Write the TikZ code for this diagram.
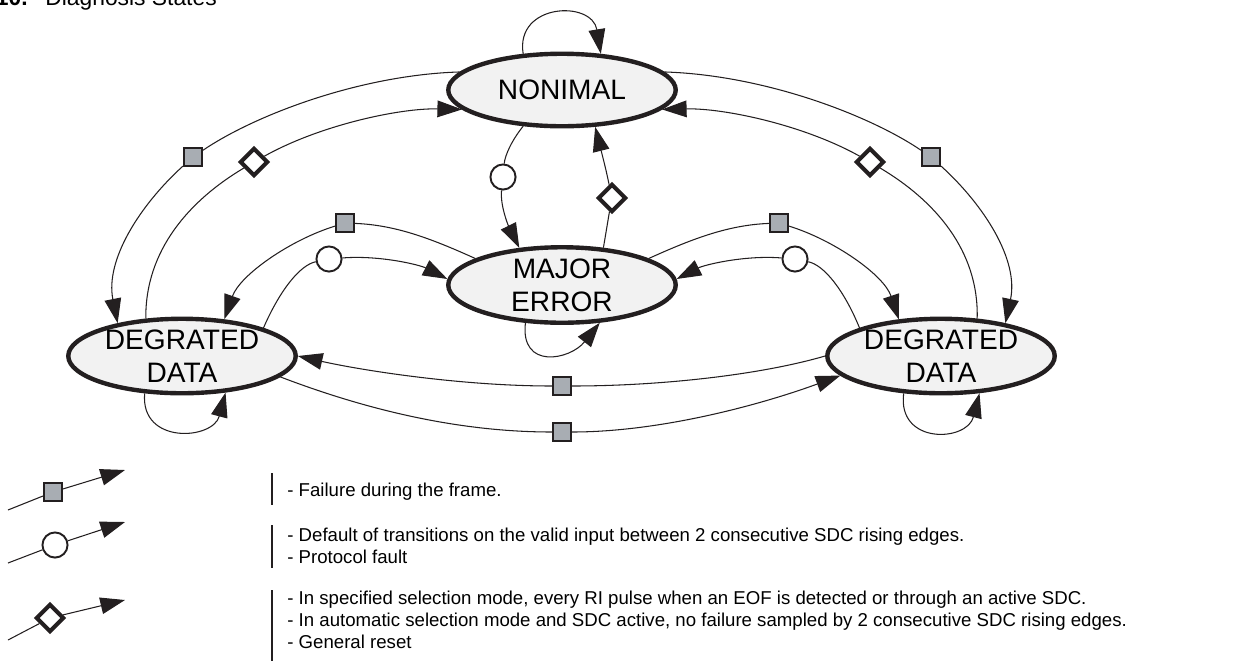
\documentclass[tikz,border=0pt]{standalone}
\usepackage{fontspec}
\setmainfont{Liberation Sans}
\usetikzlibrary{shapes.geometric,arrows.meta,positioning}
\definecolor{statefill}{HTML}{F2F2F2}
\definecolor{markgray}{HTML}{A8ADB3}
\definecolor{inkblack}{HTML}{231F20}

\begin{document}
\begin{tikzpicture}[
    x=0.02cm, y=-0.02cm,
    state/.style={ellipse, draw=inkblack, line width=2.5pt, fill=statefill, minimum width=4.55cm, minimum height=1.45cm, inner sep=0pt, align=center, font=\fontsize{16}{18.8}\selectfont},
    sqmark/.style={rectangle, draw=inkblack, fill=markgray, line width=1pt, minimum size=10.4pt, inner sep=0pt},
    cmark/.style={circle, draw=inkblack, fill=white, line width=1.1pt, minimum size=14.3pt, inner sep=0pt},
    dmark/.style={diamond, draw=inkblack, fill=white, line width=2.3pt, minimum width=16pt, minimum height=16pt, inner sep=0pt},
    trans/.style={-{Triangle[length=14pt, width=9.5pt]}, draw=inkblack, line width=0.6pt},
    legtext/.style={anchor=base west, inner sep=0pt, font=\fontsize{10.6}{12.5}\selectfont}
]
    \useasboundingbox (0,0) rectangle (1254,660);

    \node[anchor=base west, inner sep=0pt, font=\fontsize{13}{15}\selectfont] (title) at (45,5) {Diagnosis States};
    \node[anchor=base east, inner sep=0pt, font=\fontsize{13}{15}\selectfont\bfseries] (fignum) at (28,5) {10.};

    \node[state] (nominal) at (562,90) {NONIMAL};
    \node[state, minimum height=1.51cm] (major) at (562,285) {MAJOR\\ERROR};
    \node[state] (degleft) at (182,356) {DEGRATED\\DATA};
    \node[state] (degright) at (941,356) {DEGRATED\\DATA};

    \node[sqmark] (sqNL) at (193,157) {};
    \node[dmark] (dmNL) at (254,162) {};
    \node[sqmark] (sqNR) at (931,157) {};
    \node[dmark] (dmNR) at (870,162) {};
    \node[cmark] (cmNM) at (503,177) {};
    \node[dmark] (dmMN) at (612,198) {};
    \node[sqmark] (sqML) at (345,223) {};
    \node[cmark] (cmLM) at (329,259) {};
    \node[sqmark] (sqMR) at (779,223) {};
    \node[cmark] (cmRM) at (795,259) {};
    \node[sqmark] (sqRL) at (562,386) {};
    \node[sqmark] (sqLR) at (562,432) {};

    \draw[trans] (nominal.137) .. controls (515,3) and (592,0) .. (nominal.43);
    \draw[trans] (nominal.170) .. controls (360,75) and (255,115) .. (sqNL) .. controls (140,205) and (105,260) .. (degleft.153);
    \draw[trans] (degleft.134) .. controls (145,250) and (190,200) .. (dmNL) .. controls (320,125) and (400,108) .. (nominal.191);
    \draw[trans] (nominal.10) .. controls (764,75) and (869,115) .. (sqNR) .. controls (984,205) and (1019,260) .. (degright.27);
    \draw[trans] (degright.46) .. controls (979,250) and (934,200) .. (dmNR) .. controls (804,125) and (724,108) .. (nominal.349);
    \draw[trans] (nominal.223) .. controls (512,140) and (505,155) .. (cmNM) .. controls (500,205) and (508,225) .. (major.139);
    \draw[trans] (major.42) .. controls (606,230) .. (dmMN) .. controls (606,170) .. (nominal.312);
    \draw[trans] (major.163) .. controls (430,238) and (395,225) .. (sqML) .. controls (290,240) and (240,275) .. (degleft.41);
    \draw[trans] (degleft.19) .. controls (280,290) and (300,265) .. (cmLM) .. controls (380,255) and (420,265) .. (major.177);
    \draw[trans] (major.17) .. controls (694,238) and (729,225) .. (sqMR) .. controls (834,240) and (884,275) .. (degright.139);
    \draw[trans] (degright.161) .. controls (844,290) and (824,265) .. (cmRM) .. controls (744,255) and (704,265) .. (major.3);
    \draw[trans] (major.226) .. controls (520,370) and (570,360) .. (major.315);
    \draw[trans] (degright.west) .. controls (760,375) and (660,386) .. (sqRL) .. controls (460,386) and (360,370) .. (degleft.east);
    \draw[trans] (degleft.348) .. controls (380,415) and (470,432) .. (sqLR) .. controls (660,432) and (760,405) .. (degright.191);
    \draw[trans] (degleft.225) .. controls (140,445) and (213,440) .. (degleft.320);
    \draw[trans] (degright.225) .. controls (897,445) and (967,442) .. (degright.316);

    \node[sqmark] (legsq) at (53,492) {};
    \coordinate (legsqA) at (8,510);
    \coordinate (legsqB) at (125,470);
    \draw[draw=inkblack, line width=0.6pt] (legsqA) -- (legsq);
    \draw[trans] (legsq) -- (legsqB);
    \node[cmark] (legc) at (55,545) {};
    \coordinate (legcA) at (8,563);
    \coordinate (legcB) at (125,522);
    \draw[draw=inkblack, line width=0.6pt] (legcA) -- (legc);
    \draw[trans] (legc) -- (legcB);
    \node[dmark] (legd) at (50,618) {};
    \coordinate (legdA) at (8,640);
    \coordinate (legdB) at (125,600);
    \draw[draw=inkblack, line width=0.6pt] (legdA) -- (legd);
    \draw[trans] (legd) -- (legdB);

    \draw[draw=inkblack, line width=0.8pt] (272,473) -- (272,505);
    \draw[draw=inkblack, line width=0.8pt] (272,525) -- (272,568);
    \draw[draw=inkblack, line width=0.8pt] (272,590) -- (272,662);

    \node[legtext] (legA) at (287,496.5) {- Failure during the frame.};
    \node[legtext] (legB) at (287,541.5) {- Default of transitions on the valid input between 2 consecutive SDC rising edges.};
    \node[legtext] (legC) at (287,563.5) {- Protocol fault};
    \node[legtext] (legD) at (287,604.5) {- In specified selection mode, every RI pulse when an EOF is detected or through an active SDC.};
    \node[legtext] (legE) at (287,626.5) {- In automatic selection mode and SDC active, no failure sampled by 2 consecutive SDC rising edges.};
    \node[legtext] (legF) at (287,648.5) {- General reset};
\end{tikzpicture}
\end{document}
